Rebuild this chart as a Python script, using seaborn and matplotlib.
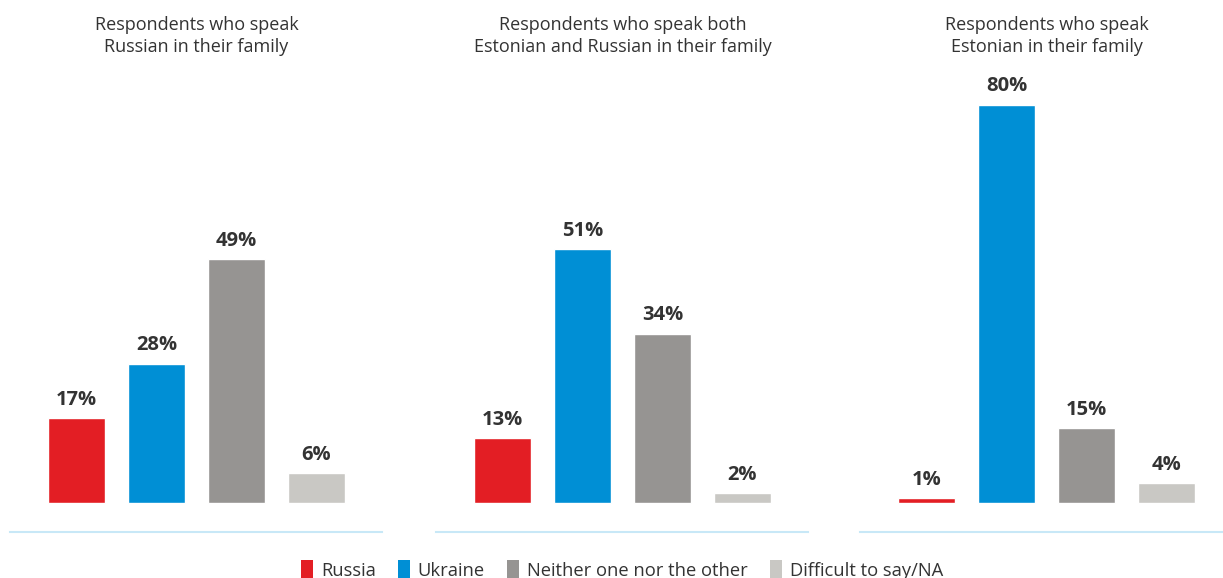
import matplotlib
matplotlib.use("Agg")
import matplotlib.pyplot as plt
from matplotlib.patches import Patch
import seaborn as sns
import pandas as pd

# Survey answers, one group per language spoken in the family
groups = [
    "Respondents who speak\nRussian in their family",
    "Respondents who speak both\nEstonian and Russian in their family",
    "Respondents who speak\nEstonian in their family",
]
answers = ["Russia", "Ukraine", "Neither one nor the other", "Difficult to say/NA"]
russian_family = [17, 28, 49, 6]
mixed_family = [13, 51, 34, 2]
estonian_family = [1, 80, 15, 4]

colors = ["#E31E24", "#008FD5", "#969492", "#C9C8C4"]
text_color = "#333333"
rule_color = "#C8E8F7"

sns.set_theme(style="white")
plt.rcParams["font.family"] = ["Open Sans", "DejaVu Sans"]

fig = plt.figure(figsize=(12.23, 5.78), dpi=100)
W, H = 1223, 578

panel_left_px = [10, 436, 860]
panel_width_px = 372
bottom_px, top_px = 532, 90
px_per_pct = 4.98
baseline_px = 503

palette = dict(zip(answers, colors))
for left, title, values in zip(panel_left_px, groups,
                               [russian_family, mixed_family, estonian_family]):
    ax = fig.add_axes([left / W, (H - bottom_px) / H,
                       panel_width_px / W, (bottom_px - top_px) / H])
    df = pd.DataFrame({"answer": answers, "value": values})
    sns.barplot(data=df, x="answer", y="value", hue="answer", palette=palette,
                order=answers, hue_order=answers, width=0.71, saturation=1,
                legend=False, ax=ax)
    ax.set_xlim(-0.83, 3.82)
    ax.set_ylim(-(bottom_px - baseline_px) / px_per_pct,
                (baseline_px - top_px) / px_per_pct)
    for bar, v in zip(ax.patches, values):
        ax.annotate(f"{v}%", (bar.get_x() + bar.get_width() / 2, v),
                    xytext=(0, 6), textcoords="offset points",
                    ha="center", va="bottom", fontsize=14.5, fontweight="bold",
                    color=text_color)
    ax.set_xlabel("")
    ax.set_ylabel("")
    ax.set_xticks([])
    ax.set_yticks([])
    for s in ["top", "left", "right"]:
        ax.spines[s].set_visible(False)
    ax.spines["bottom"].set_color(rule_color)
    ax.spines["bottom"].set_linewidth(1.5)
    # group title centered over the bars
    fig.text((left + 186.5) / W, 1 - 16 / H, title, ha="center", va="top",
             fontsize=13, color=text_color, linespacing=1.3)

handles = [Patch(facecolor=c, edgecolor="none") for c in colors]
fig.legend(handles, answers, loc="center", bbox_to_anchor=(622 / W, 1 - 570 / H),
           ncol=4, frameon=False, fontsize=13.2, handlelength=0.65,
           handleheight=1.2, handletextpad=0.45, columnspacing=1.2,
           labelcolor=text_color)

fig.savefig("out.png", dpi=100)
